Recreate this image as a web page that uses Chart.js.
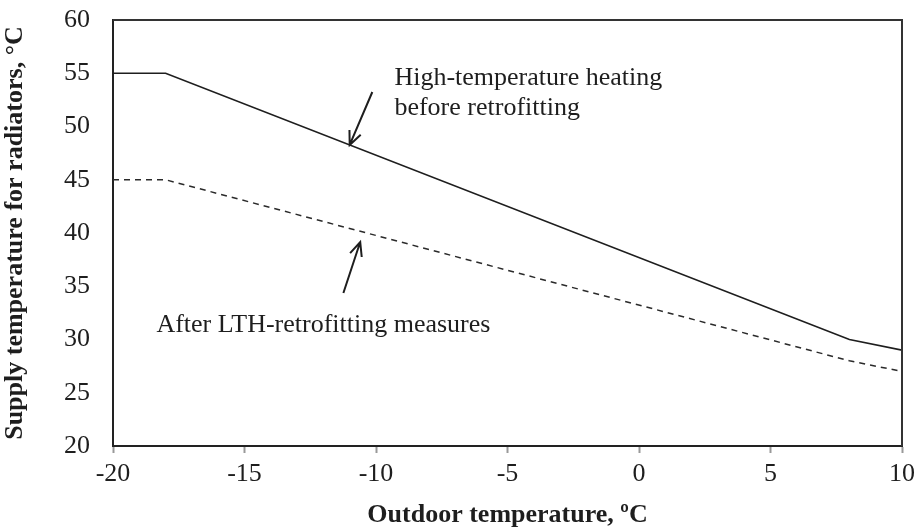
<!DOCTYPE html>
<html>
<head>
<meta charset="utf-8">
<script src="https://cdn.jsdelivr.net/npm/chart.js@4/dist/chart.umd.min.js"></script>
<style>
  html, body { margin: 0; padding: 0; background: #fff; }
  #wrap { width: 920px; height: 531px; }
</style>
</head>
<body>
<div id="wrap"><canvas id="c" width="920" height="531"></canvas></div>
<script>
// Heating curves: supply temperature vs outdoor temperature
const outdoorTemp = [-20, -18, 8, 10];
const supplyBefore = [55, 55, 30, 29];   // high-temperature heating, before retrofitting
const supplyAfter = [45, 45, 28, 27];    // after LTH-retrofitting measures

const xTicks = [-20, -15, -10, -5, 0, 5, 10];
const yTicks = [20, 25, 30, 35, 40, 45, 50, 55, 60];

// Annotation texts (baselines) and arrows, placed in data units
const noteHigh = ['High-temperature heating', 'before retrofitting'];
const noteHighAt = { x: -9.3, y: [53.9, 51.08] };
const noteLow = 'After LTH-retrofitting measures';
const noteLowAt = { x: -18.35, y: 30.7 };
const arrowHigh = { from: [-10.14, 53.24], to: [-11, 48.27] };
const arrowLow = { from: [-11.24, 34.37], to: [-10.6, 39.15] };

const ink = '#1e1e1e';
const serif = "'Liberation Serif', 'Times New Roman', serif";
const fontSize = 26;

function toXY(d) {
  return d.map((v, i) => ({ x: v, y: this[i] }));
}

const notes = {
  id: 'notes',
  afterDraw(chart) {
    const { ctx, chartArea: a, scales: { x, y } } = chart;
    ctx.save();
    // top and right frame
    ctx.strokeStyle = '#333';
    ctx.lineWidth = 2;
    ctx.beginPath();
    ctx.moveTo(a.left, a.top);
    ctx.lineTo(a.right, a.top);
    ctx.lineTo(a.right, a.bottom);
    ctx.stroke();

    ctx.fillStyle = ink;
    ctx.font = fontSize + 'px ' + serif;
    ctx.textBaseline = 'alphabetic';
    ctx.textAlign = 'left';
    noteHigh.forEach((t, i) => {
      ctx.fillText(t, x.getPixelForValue(noteHighAt.x), y.getPixelForValue(noteHighAt.y[i]));
    });
    ctx.fillText(noteLow, x.getPixelForValue(noteLowAt.x), y.getPixelForValue(noteLowAt.y));

    const arrow = (ar) => {
      const x0 = x.getPixelForValue(ar.from[0]), y0 = y.getPixelForValue(ar.from[1]);
      const x1 = x.getPixelForValue(ar.to[0]), y1 = y.getPixelForValue(ar.to[1]);
      const ang = Math.atan2(y1 - y0, x1 - x0);
      const h = 15, w = 0.42;
      ctx.strokeStyle = ink;
      ctx.lineWidth = 2;
      ctx.beginPath();
      ctx.moveTo(x0, y0);
      ctx.lineTo(x1, y1);
      ctx.moveTo(x1 - h * Math.cos(ang - w), y1 - h * Math.sin(ang - w));
      ctx.lineTo(x1, y1);
      ctx.lineTo(x1 - h * Math.cos(ang + w), y1 - h * Math.sin(ang + w));
      ctx.stroke();
    };
    arrow(arrowHigh);
    arrow(arrowLow);
    ctx.restore();
  }
};

new Chart(document.getElementById('c'), {
  type: 'line',
  data: {
    datasets: [
      {
        label: 'High-temperature heating before retrofitting',
        data: toXY.call(supplyBefore, outdoorTemp),
        borderColor: ink,
        borderWidth: 1.7,
        pointRadius: 0,
        tension: 0,
        fill: false
      },
      {
        label: 'After LTH-retrofitting measures',
        data: toXY.call(supplyAfter, outdoorTemp),
        borderColor: '#2a2a2a',
        borderWidth: 1.5,
        borderDash: [6, 5],
        pointRadius: 0,
        tension: 0,
        fill: false
      }
    ]
  },
  options: {
    responsive: false,
    animation: false,
    events: [],
    layout: { padding: { top: 20, right: 18, left: 0, bottom: 0 } },
    plugins: {
      legend: { display: false },
      tooltip: { enabled: false }
    },
    scales: {
      x: {
        type: 'linear',
        min: -20,
        max: 10,
        afterBuildTicks: s => { s.ticks = xTicks.map(v => ({ value: v })); },
        ticks: {
          color: ink,
          font: { family: serif, size: fontSize },
          padding: 6,
          maxRotation: 0
        },
        grid: {
          drawOnChartArea: false,
          drawTicks: true,
          tickLength: 7,
          tickColor: '#999',
          tickWidth: 2
        },
        border: { display: true, color: '#222', width: 2 },
        title: {
          display: true,
          text: 'Outdoor temperature, ºC',
          color: ink,
          font: { family: serif, size: fontSize, weight: 'bold' },
          padding: { top: 7, bottom: 0 }
        },
        afterFit: s => { s.height = 85; s.paddingLeft = 0; s.paddingRight = 0; }
      },
      y: {
        type: 'linear',
        min: 20,
        max: 60,
        afterBuildTicks: s => { s.ticks = yTicks.map(v => ({ value: v })); },
        ticks: {
          color: ink,
          font: { family: serif, size: fontSize },
          padding: 23
        },
        grid: { display: false, drawTicks: false },
        border: { display: true, color: '#222', width: 2 },
        title: {
          display: true,
          text: 'Supply temperature for radiators, °C',
          color: ink,
          font: { family: serif, size: fontSize, weight: 'bold' },
          padding: { top: 0, bottom: 6 }
        },
        afterFit: s => { s.width = 113; s.paddingTop = 0; s.paddingBottom = 0; }
      }
    }
  },
  plugins: [notes]
});
</script>
</body>
</html>
